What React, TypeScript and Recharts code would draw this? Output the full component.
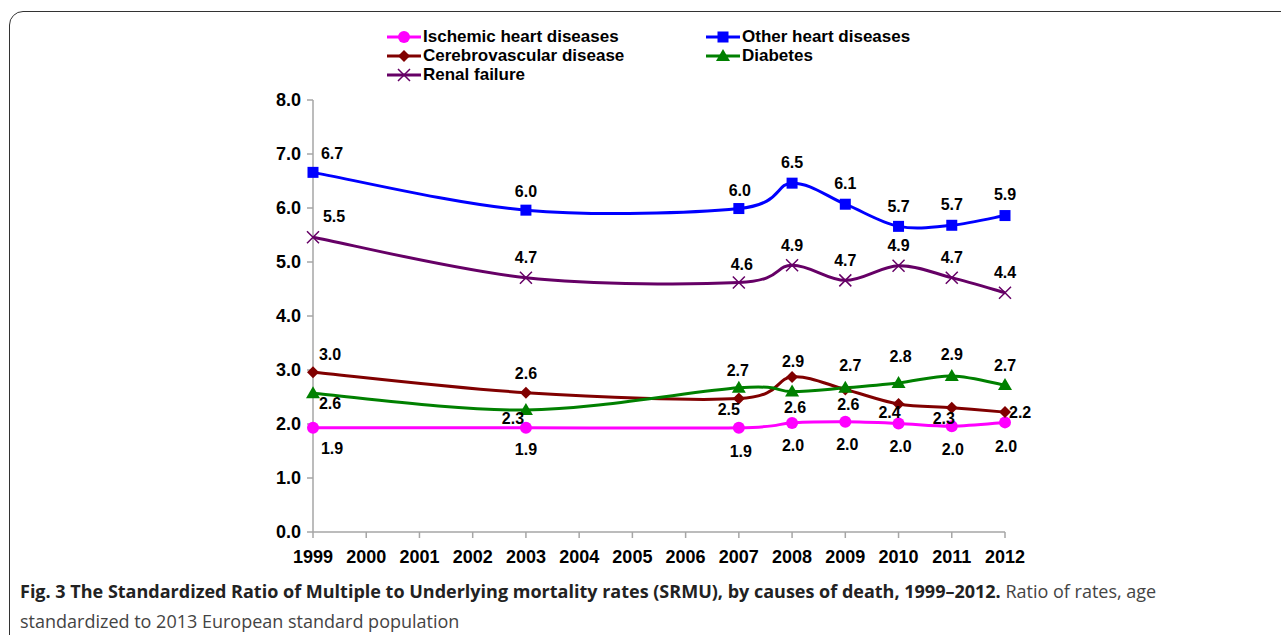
import React from 'react';
import { LineChart, Line, XAxis, YAxis, LabelList } from 'recharts';

const years = ['1999', '2000', '2001', '2002', '2003', '2004', '2005', '2006', '2007', '2008', '2009', '2010', '2011', '2012'];
const yTicks = [0, 1, 2, 3, 4, 5, 6, 7, 8];

// only 8 years were measured, the rest stay empty
const ischemic = [1.93, null, null, null, 1.93, null, null, null, 1.93, 2.02, 2.04, 2.01, 1.96, 2.03];
const otherHeart = [6.66, null, null, null, 5.96, null, null, null, 5.99, 6.46, 6.07, 5.66, 5.68, 5.86];
const cerebro = [2.96, null, null, null, 2.58, null, null, null, 2.47, 2.87, 2.64, 2.37, 2.3, 2.22];
const diabetes = [2.57, null, null, null, 2.26, null, null, null, 2.67, 2.6, 2.67, 2.76, 2.89, 2.72];
const renal = [5.46, null, null, null, 4.71, null, null, null, 4.62, 4.94, 4.66, 4.93, 4.71, 4.43];

// label placement (dx, dy from marker) per measured year
const offIschemic: Record<string, number[]> = {
  '1999': [19, 21], '2003': [0, 22], '2007': [2, 24], '2008': [1, 23], '2009': [2, 23], '2010': [2, 23], '2011': [1, 23], '2012': [1, 24],
};
const offOther: Record<string, number[]> = {
  '1999': [19, -19], '2003': [0, -19], '2007': [1, -18], '2008': [0, -21], '2009': [0, -21], '2010': [0, -20], '2011': [0, -21], '2012': [0, -21],
};
const offCerebro: Record<string, number[]> = {
  '1999': [17, -18], '2003': [0, -19], '2007': [-10, 11], '2008': [1, -16], '2009': [3, 15], '2010': [-9, 8], '2011': [-8, 11], '2012': [16, 0],
};
const offDiabetes: Record<string, number[]> = {
  '1999': [17, 10], '2003': [-13, 9], '2007': [-1, -17], '2008': [3, 16], '2009': [5, -22], '2010': [2, -26], '2011': [0, -21], '2012': [0, -20],
};
const offRenal: Record<string, number[]> = {
  '1999': [21, -21], '2003': [0, -20], '2007': [3, -18], '2008': [0, -20], '2009': [0, -20], '2010': [0, -20], '2011': [0, -20], '2012': [0, -20],
};

const rows = years.map((y, i) => ({
  year: y,
  ischemic: ischemic[i],
  otherHeart: otherHeart[i],
  cerebro: cerebro[i],
  diabetes: diabetes[i],
  renal: renal[i],
}));

const FONT = '"Liberation Sans", Arial, sans-serif';

// excel-like smoothed line (catmull-rom through the points)
const excelSmooth: any = (context: any) => {
  let pts: number[][] = [];
  return {
    areaStart() {},
    areaEnd() {},
    lineStart() {
      pts = [];
    },
    point(x: number, y: number) {
      pts.push([+x, +y]);
    },
    lineEnd() {
      if (!pts.length) return;
      context.moveTo(pts[0][0], pts[0][1]);
      for (let i = 0; i < pts.length - 1; i++) {
        const p0 = pts[i - 1] || pts[i];
        const p1 = pts[i];
        const p2 = pts[i + 1];
        const p3 = pts[i + 2] || p2;
        context.bezierCurveTo(
          p1[0] + (p2[0] - p0[0]) / 6,
          p1[1] + (p2[1] - p0[1]) / 6,
          p2[0] - (p3[0] - p1[0]) / 6,
          p2[1] - (p3[1] - p1[1]) / 6,
          p2[0],
          p2[1]
        );
      }
    },
  };
};

function marker(shape: string, color: string, cx: number, cy: number, key?: any) {
  if (shape === 'circle') return <circle key={key} cx={cx} cy={cy} r={6} fill={color} />;
  if (shape === 'square') return <rect key={key} x={cx - 5.5} y={cy - 5.5} width={11} height={11} fill={color} />;
  if (shape === 'diamond')
    return <path key={key} d={`M${cx},${cy - 6} L${cx + 6},${cy} L${cx},${cy + 6} L${cx - 6},${cy} Z`} fill={color} />;
  if (shape === 'triangle')
    return <path key={key} d={`M${cx},${cy - 7} L${cx + 7},${cy + 5} L${cx - 7},${cy + 5} Z`} fill={color} />;
  return (
    <path key={key} d={`M${cx - 6},${cy - 6} L${cx + 6},${cy + 6} M${cx - 6},${cy + 6} L${cx + 6},${cy - 6}`} stroke={color} strokeWidth={1.5} fill="none" />
  );
}

const series = [
  { key: 'ischemic', name: 'Ischemic heart diseases', color: '#ff00ff', shape: 'circle', offsets: offIschemic },
  { key: 'otherHeart', name: 'Other heart diseases', color: '#0000ff', shape: 'square', offsets: offOther },
  { key: 'cerebro', name: 'Cerebrovascular disease', color: '#800000', shape: 'diamond', offsets: offCerebro },
  { key: 'diabetes', name: 'Diabetes', color: '#008000', shape: 'triangle', offsets: offDiabetes },
  { key: 'renal', name: 'Renal failure', color: '#660066', shape: 'cross', offsets: offRenal },
];

const makeDot = (shape: string, color: string) => (props: any) => {
  const { cx, cy, value, index } = props;
  if (value == null || cy == null || isNaN(cy)) return <g key={`e${index}`} />;
  return marker(shape, color, cx, cy, `d${index}`);
};

const makeLabel = (offsets: Record<string, number[]>) => (props: any) => {
  const { x, y, value, index } = props;
  if (value == null || y == null) return null;
  const off = offsets[years[index]] || [0, -20];
  const anchorStart = off[0] >= 14 && off[1] === 0;
  return (
    <text
      x={anchorStart ? x + 4 : x + off[0]}
      y={y + off[1]}
      textAnchor={anchorStart ? 'start' : 'middle'}
      dominantBaseline="central"
      fontFamily={FONT}
      fontSize={16}
      fontWeight="bold"
      fill="#000"
    >
      {Number(value).toFixed(1)}
    </text>
  );
};

function LegendItem({ s, left, top }: any) {
  return (
    <div style={{ position: 'absolute', left, top, display: 'flex', alignItems: 'center', height: 18 }}>
      <svg width={34} height={16}>
        <line x1={0} y1={8} x2={34} y2={8} stroke={s.color} strokeWidth={3} />
        {marker(s.shape, s.color, 17, 8)}
      </svg>
      <span style={{ marginLeft: 2, fontFamily: FONT, fontWeight: 'bold', fontSize: 17, color: '#000', whiteSpace: 'nowrap' }}>
        {s.name}
      </span>
    </div>
  );
}

export default function App() {
  const legendPos = [
    [387, 28],
    [706, 28],
    [387, 47],
    [706, 47],
    [387, 66],
  ];
  const captionLine: React.CSSProperties = {
    position: 'absolute',
    left: 20,
    fontFamily: '"Open Sans", sans-serif',
    fontSize: 18,
    lineHeight: '30px',
    color: '#444',
    whiteSpace: 'nowrap',
  };
  return (
    <div style={{ position: 'absolute', left: 0, top: 0, width: 1281, height: 635, overflow: 'hidden', background: '#fff' }}>
      <div
        style={{
          position: 'absolute',
          left: 9,
          top: 11,
          width: 1300,
          height: 660,
          border: '1.5px solid #333',
          borderTopLeftRadius: 14,
          boxSizing: 'border-box',
        }}
      />
      <div style={{ position: 'absolute', left: 0, top: 0 }}>
        <LineChart width={1100} height={600} data={rows} margin={{ top: 100, right: 95, left: 253, bottom: 28 }}>
          <XAxis
            dataKey="year"
            type="category"
            interval={0}
            padding={{ left: 0, right: 0 }}
            stroke="#a6a6a6"
            strokeWidth={1.5}
            tickSize={6}
            tickMargin={12}
            height={40}
            tick={{ fill: '#000', fontFamily: FONT, fontSize: 18, fontWeight: 'bold' }}
          />
          <YAxis
            domain={[0, 8]}
            ticks={yTicks}
            interval={0}
            width={60}
            stroke="#a6a6a6"
            strokeWidth={1.5}
            tickSize={6}
            tickMargin={6}
            tickFormatter={(v: number) => v.toFixed(1)}
            tick={{ fill: '#000', fontFamily: FONT, fontSize: 18, fontWeight: 'bold' }}
          />
          {series.map((s) => (
            <Line
              key={s.key}
              dataKey={s.key}
              name={s.name}
              type={excelSmooth}
              stroke={s.color}
              strokeWidth={3}
              connectNulls
              dot={makeDot(s.shape, s.color)}
              activeDot={false}
              isAnimationActive={false}
            >
              <LabelList dataKey={s.key} content={makeLabel(s.offsets)} />
            </Line>
          ))}
        </LineChart>
      </div>
      {series.map((s, i) => (
        <LegendItem key={s.key} s={s} left={legendPos[i][0]} top={legendPos[i][1]} />
      ))}
      <div style={{ ...captionLine, top: 576 }}>
        <span style={{ fontWeight: 'bold', color: '#222' }}>
          Fig. 3 The Standardized Ratio of Multiple to Underlying mortality rates (SRMU), by causes of death, 1999–2012.
        </span>{' '}
        Ratio of rates, age
      </div>
      <div style={{ ...captionLine, top: 606 }}>standardized to 2013 European standard population</div>
    </div>
  );
}
